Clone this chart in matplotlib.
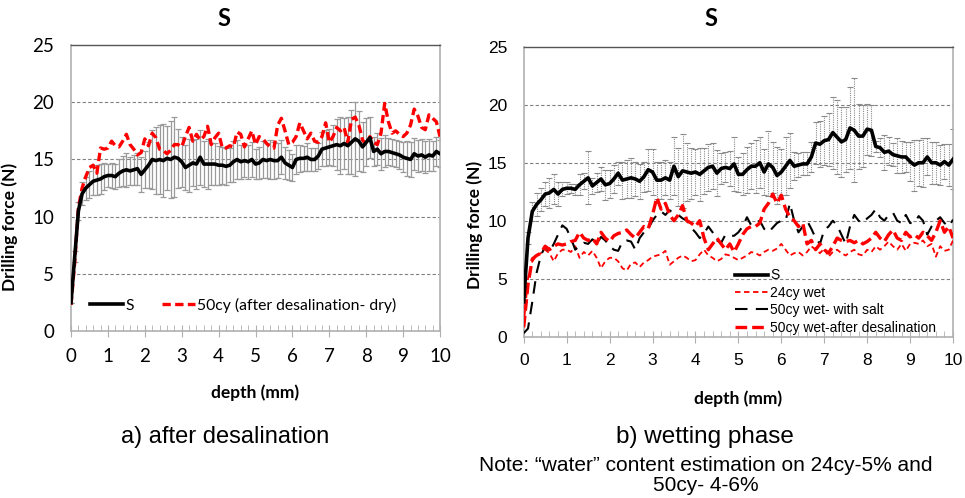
import numpy as np
import matplotlib
matplotlib.use("Agg")
import matplotlib.pyplot as plt

# depth axis (mm), 0.1 mm steps
depth = np.round(np.arange(0, 101) * 0.1, 1)

# ---- a) after desalination ----
a_s_mean = [2.5, 6.5, 10.5, 12.0, 12.5, 12.8, 13.1, 13.2, 13.3, 13.5,
            13.6, 13.6, 13.5, 13.8, 14.0, 14.1, 14.0, 14.1, 14.2, 13.7,
            14.1, 14.5, 15.0, 14.9, 15.0, 14.9, 15.1, 15.0, 15.2, 15.1,
            14.8, 14.3, 14.5, 14.7, 14.6, 15.2, 14.6, 14.6, 14.6, 14.6,
            14.5, 14.5, 14.4, 14.5, 14.8, 15.0, 14.8, 14.9, 14.8, 15.0,
            14.6, 14.7, 15.0, 14.9, 15.0, 14.9, 14.9, 15.2, 14.7, 14.5,
            14.3, 15.0, 15.1, 15.1, 15.2, 15.0, 15.0, 15.3, 15.9, 16.0,
            16.1, 16.2, 16.3, 16.2, 16.4, 16.2, 16.5, 16.8, 16.6, 16.1,
            16.5, 16.9, 15.7, 15.9, 15.5, 15.7, 15.7, 15.6, 15.5, 15.4,
            15.2, 15.1, 15.0, 15.5, 15.3, 15.4, 15.2, 15.4, 15.3, 15.7,
            15.5]
a_s_err = [0.0, 0.5, 0.8, 1.0, 1.0, 1.2, 1.2, 1.3, 1.3, 1.2,
           1.0, 1.1, 1.1, 1.2, 1.3, 1.5, 1.2, 1.3, 1.4, 1.5,
           1.6, 2.0, 2.6, 2.9, 3.0, 3.2, 2.8, 3.4, 3.5, 2.6,
           2.2, 2.0, 2.3, 2.0, 2.2, 2.4, 2.0, 2.2, 1.8, 1.8,
           1.7, 1.6, 1.6, 1.5, 1.8, 1.7, 1.5, 1.4, 1.5, 1.5,
           1.3, 1.4, 1.6, 1.5, 1.7, 1.6, 1.5, 1.5, 1.4, 1.3,
           1.2, 1.3, 1.2, 1.1, 1.2, 1.0, 1.0, 1.1, 1.5, 1.6,
           1.6, 1.8, 2.2, 2.5, 2.2, 2.5, 2.8, 3.2, 2.6, 2.2,
           2.1, 1.8, 1.3, 1.4, 1.4, 1.4, 1.2, 1.2, 1.2, 1.2,
           1.3, 1.5, 1.5, 1.4, 1.4, 1.4, 1.4, 1.4, 1.3, 1.3,
           1.2]
a_50cy_dry = [2.3, 6.0, 10.8, 12.5, 13.5, 14.3, 14.5, 13.8, 16.0, 15.9,
              16.0, 16.6, 16.2, 16.1, 16.6, 17.2, 16.3, 15.9, 15.4, 15.6,
              16.8, 16.2, 17.3, 16.9, 15.9, 15.8, 15.5, 15.8, 16.3, 16.3,
              16.1, 17.0, 17.8, 16.6, 17.2, 16.7, 17.0, 17.9, 16.3, 16.9,
              17.3, 16.0, 16.0, 16.2, 16.1, 17.4, 17.2, 16.1, 16.8, 17.5,
              16.3, 17.0, 16.8, 16.4, 16.1, 16.0, 18.0, 18.6, 17.5, 16.3,
              16.5, 17.0, 18.2, 17.5, 16.8, 17.3, 16.6, 16.5, 17.0, 18.2,
              16.5, 17.0, 17.8, 17.5, 17.8, 16.5, 18.5, 18.7, 18.0, 16.7,
              16.3, 17.0, 16.5, 16.3, 17.3, 19.9, 18.3, 17.3, 17.5, 17.2,
              17.0, 17.3, 18.0, 19.4, 18.8, 17.8, 17.6, 18.9, 18.6, 18.3,
              17.0]

# ---- b) wetting phase ----
b_s_mean = [3.0, 8.5, 10.8, 11.4, 11.8, 12.3, 12.4, 12.7, 12.3, 12.7,
            12.8, 12.8, 12.7, 13.1, 13.4, 13.7, 13.0, 13.3, 13.6, 13.1,
            13.2, 13.6, 14.1, 13.5, 13.6, 13.7, 13.6, 13.4, 13.8, 14.4,
            14.2, 13.5, 13.5, 13.7, 13.5, 14.7, 13.8, 14.3, 14.2, 14.1,
            14.2, 14.0, 14.3, 14.6, 14.7, 14.1, 14.5, 14.6, 14.5, 14.9,
            14.0, 14.0, 14.4, 14.7, 14.7, 15.0, 14.2, 14.9, 14.6, 13.9,
            14.2, 14.7, 15.2, 14.7, 14.8, 14.9, 14.9, 15.5, 16.7, 16.6,
            16.9, 17.0, 17.6, 17.2, 16.8, 17.0, 18.0, 17.8, 17.3, 17.3,
            17.9, 17.8, 16.4, 16.3, 15.9, 16.0, 15.7, 15.6, 15.5, 15.5,
            15.1, 14.8, 15.0, 15.0, 15.5, 15.0, 15.0, 14.8, 15.1, 14.8,
            15.3]
b_s_err = [0.0, 0.5, 0.8, 1.0, 1.0, 1.0, 1.3, 1.3, 1.0, 0.6,
           0.5, 0.4, 0.5, 0.9, 0.7, 2.3, 0.7, 0.8, 1.0, 1.3,
           1.2, 1.2, 1.0, 1.6, 1.6, 1.7, 1.5, 1.5, 1.3, 1.8,
           2.0, 1.6, 1.6, 1.5, 1.6, 2.5, 2.5, 3.2, 2.5, 2.2,
           2.0, 2.3, 2.0, 2.0, 2.0, 2.0, 1.3, 1.3, 1.5, 2.3,
           1.5, 1.8, 2.0, 2.0, 2.3, 2.2, 2.0, 2.8, 2.2, 2.5,
           2.0, 2.5, 2.4, 1.2, 1.0, 1.0, 1.0, 1.3, 1.8, 2.0,
           2.1, 2.3, 3.1, 3.2, 3.0, 2.8, 3.5, 4.5, 2.8, 2.7,
           2.2, 2.2, 0.5, 0.8, 1.5, 1.2, 1.0, 1.5, 1.4, 1.3,
           1.7, 2.2, 2.0, 2.1, 1.6, 1.8, 1.8, 1.7, 1.5, 1.8,
           2.6]
b_24cy_wet = [1.0, 5.0, 6.5, 7.0, 7.2, 7.5, 7.2, 6.5, 7.2, 7.5,
              7.5, 7.3, 7.8, 6.8, 7.3, 7.0, 7.4, 6.8, 5.9, 6.5,
              6.8, 6.8, 6.5, 5.9, 5.7, 6.3, 6.4, 6.0, 6.4, 6.6,
              6.9, 7.0, 7.1, 7.4, 6.2, 6.5, 6.8, 7.0, 6.8, 6.5,
              6.6, 7.1, 7.5, 7.0, 6.8, 6.5, 6.7, 7.1, 7.0, 6.8,
              6.6, 6.8, 7.0, 7.3, 7.2, 7.0, 7.3, 7.5, 7.4, 7.6,
              8.0, 7.5, 7.0, 7.2, 7.3, 7.0, 7.3, 7.8, 7.5, 7.2,
              7.6, 6.9, 7.3, 7.5, 7.2, 7.0, 7.3, 7.5, 7.1, 7.0,
              7.5, 7.3, 7.8, 7.5, 7.8, 8.2, 7.8, 7.5, 8.0, 7.4,
              8.0, 8.1, 8.0, 8.3, 7.8, 8.0, 6.9, 7.8, 7.4, 7.5,
              8.3]
b_50cy_salt = [0.3, 0.7, 3.0, 5.5, 7.0, 7.8, 7.3, 8.0, 8.8, 9.6,
               9.3, 8.5, 7.5, 7.9, 8.1, 8.0, 8.4, 8.0, 8.6, 8.3,
               7.8, 7.5, 7.4, 8.2, 8.3, 8.2, 7.5, 8.5, 9.0, 9.3,
               10.0, 10.5, 10.8, 10.5, 10.9, 10.6, 10.5, 10.2, 10.0, 9.4,
               9.0, 8.5, 8.9, 9.5, 9.0, 8.3, 8.1, 8.8, 8.7, 8.7,
               9.0, 9.5, 10.3, 9.6, 9.8, 10.0, 9.3, 9.0, 9.4, 9.8,
               10.0, 10.0, 11.5, 10.0, 9.0, 9.5, 10.0, 9.3, 8.5, 8.0,
               9.2, 9.5, 10.0, 9.6, 8.8, 8.0, 9.5, 10.5, 10.0, 9.8,
               10.2, 10.5, 11.0, 10.3, 10.0, 10.5, 10.7, 10.0, 9.8, 10.5,
               9.8, 9.8, 10.4, 10.0, 8.8, 9.5, 10.0, 10.3, 9.8, 9.5,
               10.1]
b_50cy_desal = [0.8, 4.5, 6.7, 7.0, 7.2, 7.8, 7.5, 7.8, 8.0, 7.9,
                8.0, 8.2, 8.3, 9.0, 8.5, 8.3, 8.5, 8.0, 9.0, 8.5,
                8.2, 8.7, 8.9, 9.0, 9.2, 8.8, 8.5, 9.0, 9.5, 9.3,
                10.5, 12.0, 11.0, 11.5, 10.5, 10.0, 10.5, 11.3, 10.0, 9.8,
                9.5, 10.0, 8.5, 7.5, 8.0, 8.5, 8.0, 7.5, 8.0, 7.3,
                8.0, 8.8, 9.3, 9.5, 9.5, 9.8, 11.0, 11.5, 12.3, 11.5,
                12.2, 11.0, 10.3, 10.0, 9.5, 9.8, 8.0, 8.3, 7.5, 8.0,
                7.5, 7.2, 7.8, 8.5, 8.3, 8.2, 8.3, 8.1, 8.3, 8.0,
                8.2, 8.5, 9.0, 8.5, 8.2, 8.8, 9.2, 8.5, 8.3, 9.0,
                8.6, 8.8, 8.5, 9.0, 8.7, 8.3, 9.0, 10.0, 9.0, 9.5,
                8.5]

x_ticks = list(range(0, 11))
y_ticks = [0, 5, 10, 15, 20, 25]

CAL = "Lato"
ARIAL = "Liberation Sans"


def style_axes(ax, tick_font, tick_size, ypad):
    ax.set_xlim(0, 10)
    ax.set_ylim(0, 25)
    ax.set_xticks(x_ticks)
    ax.set_xticks(np.arange(0, 10.01, 0.2), minor=True)
    ax.set_yticks(y_ticks)
    for y in y_ticks[1:-1]:
        ax.axhline(y, color="#808080", lw=0.8, ls=(0, (3, 2)), zorder=0)
    for side in ["left", "right", "bottom"]:
        ax.spines[side].set_color("#b0b0b0")
        ax.spines[side].set_linewidth(1.2)
    ax.spines["top"].set_color("#555555")
    ax.spines["top"].set_linewidth(1.0)
    ax.spines["top"].set_linestyle((0, (4, 1)))
    ax.tick_params(axis="y", length=0, pad=ypad)
    ax.tick_params(axis="x", which="major", direction="inout", length=8,
                   color="#b0b0b0", pad=8)
    ax.tick_params(axis="x", which="minor", direction="in", length=4,
                   color="#b0b0b0")
    for lab in ax.get_xticklabels() + ax.get_yticklabels():
        lab.set_fontfamily(tick_font)
        lab.set_fontsize(tick_size)


fig = plt.figure(figsize=(9.65, 4.98), dpi=100)

# ---------- left ----------
ax1 = fig.add_axes([0.0736, 0.335, 0.3824, 0.5746])
eb = ax1.errorbar(depth, a_s_mean, yerr=a_s_err, fmt="none", ecolor="#9a9a9a",
                  elinewidth=0.9, capsize=2.5, capthick=0.9, zorder=2)
for c in eb[1]:
    c.set_color("#444444")
ax1.plot(depth, a_s_mean, color="black", lw=2.6, zorder=4, label="S")
ax1.plot(depth, a_50cy_dry, color="#ff0000", lw=2.4, ls=(0, (2.5, 1.3)),
         zorder=3, label="50cy (after desalination- dry)")
style_axes(ax1, CAL, 13.5, 12)
ax1.set_ylabel("Drilling force (N)", fontfamily=CAL, fontweight="bold",
               fontsize=12.5)
ax1.yaxis.set_label_coords(-0.144, 0.364)
ax1.set_xlabel("depth (mm)", fontfamily=CAL, fontweight="bold", fontsize=12.5,
               labelpad=14)
ax1.legend(loc="center left", bbox_to_anchor=(0.0515, 0.09), ncol=2,
           frameon=False, prop={"family": CAL, "size": 11.3},
           handlelength=2.1, handletextpad=0.15, columnspacing=1.8,
           borderaxespad=0, borderpad=0)

# ---------- right ----------
ax2 = fig.add_axes([0.5427, 0.324, 0.4449, 0.582])
eb2 = ax2.errorbar(depth, b_s_mean, yerr=b_s_err, fmt="none", ecolor="#8a8a8a",
                   elinewidth=0.8, capsize=2.5, capthick=0.8, zorder=2)
for c in eb2[1]:
    c.set_color("#444444")
eb2[2][0].set_linestyle((0, (1, 1)))
ax2.plot(depth, b_s_mean, color="black", lw=2.6, zorder=5, label="S")
ax2.plot(depth, b_24cy_wet, color="#ff0000", lw=1.3, ls=(0, (3, 2)),
         zorder=3, label="24cy wet")
ax2.plot(depth, b_50cy_salt, color="black", lw=1.5, ls=(0, (6, 4)),
         zorder=3, label="50cy wet- with salt")
ax2.plot(depth, b_50cy_desal, color="#ff0000", lw=2.4, ls=(0, (3.5, 1.5)),
         zorder=4, label="50cy wet-after desalination")
style_axes(ax2, ARIAL, 12.5, 12)
ax2.set_ylabel("Drilling force (N)", fontfamily=CAL, fontweight="bold",
               fontsize=12.5)
ax2.yaxis.set_label_coords(-0.095, 0.385)
ax2.set_xlabel("depth (mm)", fontfamily=CAL, fontweight="bold", fontsize=12.5,
               labelpad=16)
ax2.legend(loc="center left", bbox_to_anchor=(0.4925, 0.121), frameon=False,
           prop={"family": ARIAL, "size": 10}, handlelength=2.4,
           handletextpad=0.1, labelspacing=0.25, borderaxespad=0, borderpad=0)

# titles
fig.text(0.232, 0.962, "S", ha="center", va="center", fontfamily=CAL,
         fontweight="bold", fontsize=17)
fig.text(0.737, 0.962, "S", ha="center", va="center", fontfamily=CAL,
         fontweight="bold", fontsize=17)

# captions
fig.text(0.233, 0.122, "a) after desalination", ha="center", va="center",
         fontfamily=ARIAL, fontsize=17)
fig.text(0.731, 0.122, "b) wetting phase", ha="center", va="center",
         fontfamily=ARIAL, fontsize=17.5)
fig.text(0.731, 0.066, "Note: \u201cwater\u201d content estimation on 24cy-5% and",
         ha="center", va="center", fontfamily=ARIAL, fontsize=15)
fig.text(0.731, 0.026, "50cy- 4-6%", ha="center", va="center",
         fontfamily=ARIAL, fontsize=15)

fig.savefig("out.png", dpi=100)
